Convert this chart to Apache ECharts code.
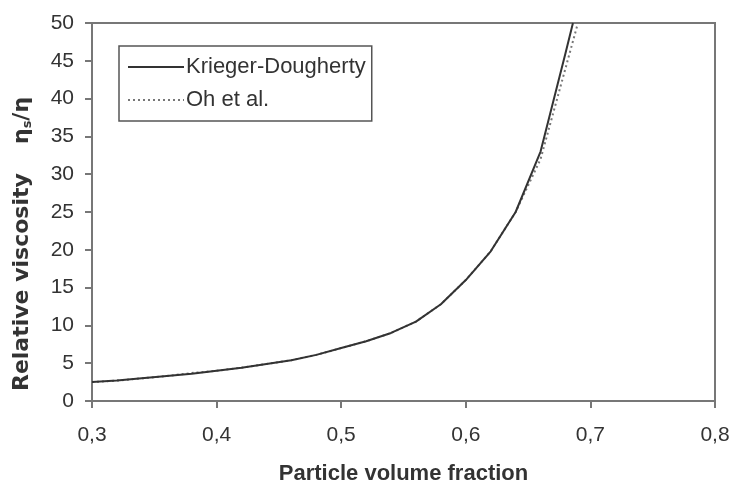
<!DOCTYPE html>
<html>
<head>
<meta charset="utf-8">
<script src="https://cdn.jsdelivr.net/npm/echarts@6/dist/echarts.min.js"></script>
<style>html,body{margin:0;padding:0;background:#fff;}#c{width:734px;height:490px;}</style>
</head>
<body>
<div id="c"></div>
<script>
// Data
const phiKD = [0.30,0.32,0.34,0.36,0.38,0.40,0.42,0.44,0.46,0.48,0.50,0.52,0.54,0.56,0.58,0.60,0.62,0.64,0.66,0.68,0.686];
const etaKD = [2.5,2.7,3.0,3.3,3.6,4.0,4.4,4.9,5.4,6.1,7.0,7.9,9.0,10.5,12.8,16.0,19.8,25.0,33.0,46.0,50.0];
const phiOh = [0.30,0.32,0.34,0.36,0.38,0.40,0.42,0.44,0.46,0.48,0.50,0.52,0.54,0.56,0.58,0.60,0.62,0.64,0.66,0.68,0.69];
const etaOh = [2.5,2.7,3.0,3.3,3.7,4.0,4.4,4.9,5.4,6.1,7.0,7.9,9.0,10.5,12.8,16.0,19.8,25.0,32.0,44.0,50.0];
const seriesNames = ['Krieger-Dougherty', 'Oh et al.'];
const xTitle = 'Particle volume fraction';

const chart = echarts.init(document.getElementById('c'));
const font = 'Liberation Sans, Arial, sans-serif';
const pairs = (xs, ys) => xs.map((x, i) => [x, ys[i]]);
chart.setOption({
  animation: false,
  backgroundColor: '#fff',
  grid: { left: 92, top: 23, right: 19, bottom: 84, show: true, borderColor: '#777', borderWidth: 2, containLabel: false },
  legend: {
    orient: 'vertical', left: 119, top: 46, width: 254,
    padding: [10, 6, 10, 8], itemGap: 11, itemWidth: 56, itemHeight: 14,
    borderColor: '#555', borderWidth: 1.5, backgroundColor: '#fff',
    itemStyle: { opacity: 0 },
    textStyle: { fontFamily: font, fontSize: 22, color: '#333', padding: [0, 0, 0, -3] },
    data: seriesNames
  },
  xAxis: {
    type: 'value', min: 0.3, max: 0.8, interval: 0.1,
    name: xTitle, nameLocation: 'middle', nameGap: 62,
    nameTextStyle: { fontFamily: font, fontSize: 22, fontWeight: 'bold', color: '#333' },
    axisLine: { lineStyle: { color: '#777', width: 2 } },
    axisTick: { show: true, inside: false, length: 7, lineStyle: { color: '#777', width: 2 } },
    axisLabel: { margin: 24, fontFamily: font, fontSize: 21, color: '#333',
      formatter: v => v.toFixed(1).replace('.', ',') },
    splitLine: { show: false }
  },
  yAxis: {
    type: 'value', min: 0, max: 50, interval: 5,
    name: '{a|Relative viscosity}     {a|η}{s|s}{a|/η}', nameLocation: 'middle', nameGap: 58,
    nameTextStyle: { fontFamily: font, fontSize: 21, fontWeight: 'bold', color: '#333', padding: [0, 64, 0, 0],
      rich: {
        a: { fontFamily: 'DejaVu Sans, sans-serif', fontSize: 22, fontWeight: 'bold', color: '#333' },
        s: { fontFamily: 'DejaVu Sans, sans-serif', fontSize: 13, fontWeight: 'bold', color: '#333', padding: [11, 0, 0, 0] }
      } },
    axisLine: { lineStyle: { color: '#777', width: 2 } },
    axisTick: { show: true, inside: false, length: 7, lineStyle: { color: '#777', width: 2 } },
    axisLabel: { margin: 18, fontFamily: font, fontSize: 21, color: '#333' },
    splitLine: { show: false }
  },
  series: [
    { name: seriesNames[0], type: 'line', data: pairs(phiKD, etaKD), symbol: 'none', smooth: false,
      lineStyle: { color: '#333', width: 2 }, itemStyle: { color: '#333' }, z: 3 },
    { name: seriesNames[1], type: 'line', data: pairs(phiOh, etaOh), symbol: 'none', smooth: false,
      lineStyle: { color: '#777', width: 2, type: [2, 3] }, itemStyle: { color: '#777' }, z: 2 }
  ]
});
</script>
</body>
</html>
